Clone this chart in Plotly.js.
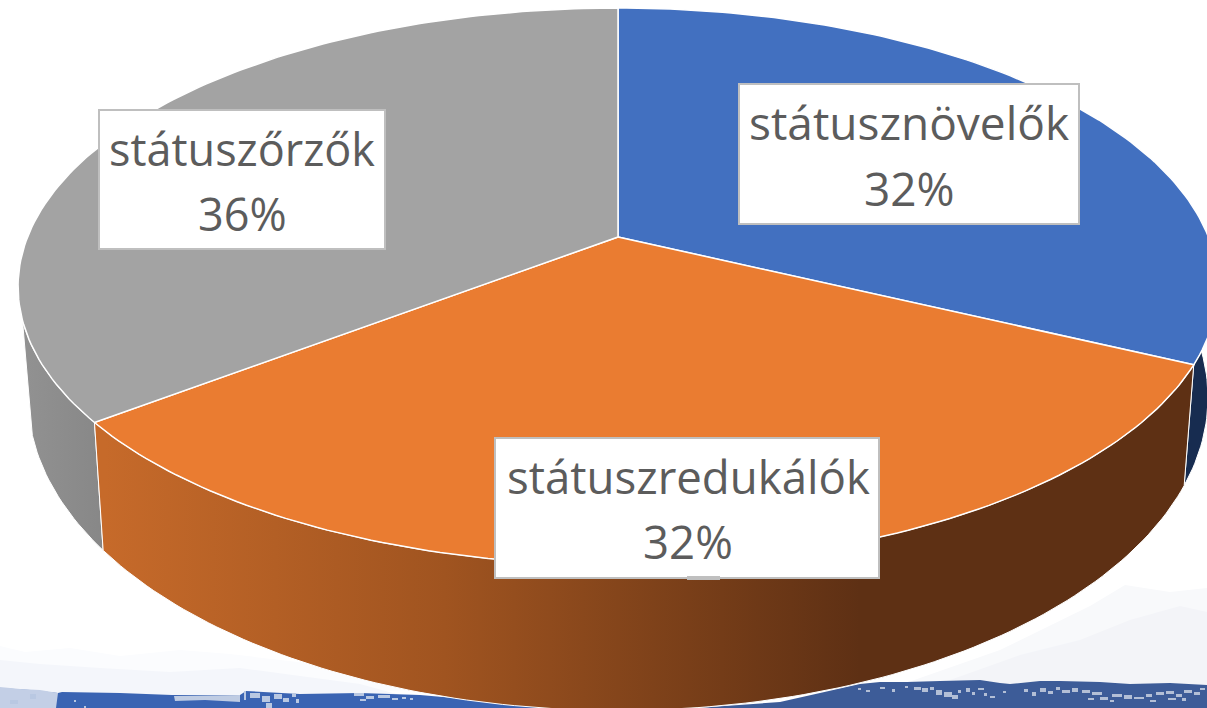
<!DOCTYPE html>
<html><head><meta charset="utf-8">
<script src="https://cdn.plot.ly/plotly-3.0.1.min.js"></script>
<style>html,body{margin:0;padding:0;background:#fff;overflow:hidden}</style>
</head><body><div id="chart" style="width:1207px;height:708px"></div>
<script>
const categories = ['státusznövelők', 'státuszredukálók', 'státuszőrzők'];
const values = [32.2, 32.3, 35.5];
const topColors = ['#4270c0', '#ea7c31', '#a3a3a3'];
const boxLeft = [739, 495, 99];
const boxRight = [1079, 879, 385];
const boxTop = [84, 438, 110];
const boxBottom = [224, 578, 249];
const labelX = [909, 688, 242];
const nameBase = [138, 492, 164];
const pctBase = [204, 557, 229];
const labelSize = [46, 45.6, 45];

const tilt = 0.1777;
const topDisc = {cx: 618, cy: 237, a: 590.4, b: 269.7};
const botDisc = {cx: 618, cy: 342, a: 580.6, b: 303};
const silhouetteRight = 85, silhouetteLeft = 253;

function pt(deg, d) {
  const t = deg * Math.PI / 180, u = Math.sin(t), v = Math.cos(t), w = 1 + tilt * v;
  return [d.cx + d.a * u / w, d.cy - d.b * v / w];
}
function arc(from, to, d) {
  const out = [], n = Math.max(2, Math.ceil(Math.abs(to - from)));
  for (let i = 0; i <= n; i++) out.push(pt(from + (to - from) * i / n, d));
  return out;
}
const total = values.reduce((a, b) => a + b, 0);
const edges = [0];
values.forEach((v, i) => edges.push(edges[i] + v / total * 360));

function wall(from, to, extra) {
  const p = arc(from, to, topDisc).concat(arc(to, from, botDisc));
  p.push(p[0]);
  return Object.assign({type: 'scatter', mode: 'lines', x: p.map(q => q[0]), y: p.map(q => q[1]),
    fill: 'toself', line: {color: '#ffffff', width: 1}, hoverinfo: 'skip', showlegend: false}, extra);
}
const traces = [
  wall(edges[2], silhouetteLeft, {fillcolor: '#8b8b8b', fillgradient: {type: 'horizontal', start: 20, stop: 105, colorscale: [[0, '#929292'], [1, '#878787']]}}),
  wall(silhouetteRight, edges[1], {fillcolor: '#172c50'}),
  wall(edges[1], edges[2], {fillcolor: '#8a4a1c', fillgradient: {type: 'horizontal', start: 105, stop: 860, colorscale: [[0, '#c66a2a'], [0.45, '#a05420'], [1, '#5e3014']]}})
];
categories.forEach((c, i) => {
  const p = [[topDisc.cx, topDisc.cy]].concat(arc(edges[i], edges[i + 1], topDisc));
  p.push(p[0]);
  traces.push({type: 'scatter', mode: 'lines', name: c, x: p.map(q => q[0]), y: p.map(q => q[1]),
    fill: 'toself', fillcolor: topColors[i], line: {color: '#ffffff', width: 1.5}, hoverinfo: 'skip', showlegend: false});
});

const textFont = (i) => ({family: '"Open Sans", sans-serif', size: labelSize[i], color: '#5c5c5c'});
const annotations = [];
categories.forEach((c, i) => {
  annotations.push({xref: 'x', yref: 'y', x: labelX[i], y: nameBase[i] - 16, xanchor: 'center', yanchor: 'middle',
    text: c, showarrow: false, font: textFont(i)});
  annotations.push({xref: 'x', yref: 'y', x: labelX[i], y: pctBase[i] - 16, xanchor: 'center', yanchor: 'middle',
    text: Math.round(values[i]) + '%', showarrow: false, font: textFont(i)});
});

function poly(path, color) {
  return {type: 'path', xref: 'x', yref: 'y', layer: 'below', path: path, fillcolor: color, line: {width: 0}};
}
const shapes = [
  poly('M0,646 L25,652 L70,648 L120,656 L180,650 L230,654 L280,660 L350,668 L420,690 L0,700 Z', '#fbfcfe'),
  poly('M0,660 L40,664 L100,668 L170,672 L240,668 L300,676 L360,684 L400,695 L0,700 Z', '#f4f6fb'),
  poly('M1207,588 L1170,592 L1125,585 L1090,606 L1000,650 L900,685 L1207,700 Z', '#f8f9fb'),
  poly('M1207,612 L1180,606 L1130,620 L1080,640 L1020,655 L950,680 L1207,700 Z', '#f3f4f8'),
  poly('M0,688 L30,690 L58,693 L62,692 L120,693 L172,695 L240,695 L246,691 L300,694 L360,693 L420,695 L500,702 L640,712 L0,712 Z', '#3a64b3'),
  poly('M640,712 L780,702 L860,684 L880,682 L907,682 L940,681 L980,680 L1000,683 L1010,684 L1040,681 L1060,681 L1100,682 L1130,684 L1170,683 L1207,685 L1207,712 Z', '#3d5c98'),
  poly('M0,687 L20,689 L40,690 L58,693 L56,708 L0,708 Z', '#c3cfe6'),
  poly('M174,696 L240,695 L240,702 L205,700 L175,701 Z', '#bfcce3')
];
const speckL = [[30,694,6,5],[10,700,8,4],[250,693,10,5],[262,696,8,6],[274,694,8,5],[283,698,6,4],[266,703,6,5],[292,693,4,4],
  [296,699,3,4],[354,693,10,3],[366,696,8,3],[378,695,12,3],[392,698,6,2],[402,697,4,2],[410,698,3,2],[360,699,6,2],[244,691,2,9],[74,700,2,2],[84,706,2,2]];
const speckR = [[858,688,3,2],[866,690,4,2],[880,687,5,2],[892,689,3,3],[905,686,3,2],[914,687,7,3],[922,688,6,4],[930,687,4,3],[936,690,6,5],
  [944,692,8,5],[952,695,6,4],[958,690,3,3],[966,688,4,4],[972,692,3,3],[978,688,6,2],[984,693,3,3],[990,696,5,2],[1003,691,3,2],
  [1024,689,4,3],[1032,692,4,4],[1040,688,6,4],[1048,691,5,3],[1056,687,4,3],[1062,690,8,3],[1072,688,6,4],[1082,690,8,3],[1092,692,10,3],
  [1088,698,6,2],[1100,697,8,3],[1112,694,10,3],[1124,695,8,4],[1134,697,10,2],[1146,694,6,3],[1156,692,8,3],[1166,691,8,3],[1176,694,6,3],
  [1184,690,8,3],[1194,692,6,3],[1168,698,8,2],[1150,700,6,2],[1182,698,4,3],[1110,700,4,2],[1200,688,5,2]];
speckL.forEach(s => shapes.push({type: 'rect', xref: 'x', yref: 'y', layer: 'below', x0: s[0], x1: s[0] + s[2], y0: s[1], y1: s[1] + s[3], fillcolor: '#b9c8e2', line: {width: 0}}));
speckR.forEach(s => shapes.push({type: 'rect', xref: 'x', yref: 'y', layer: 'below', x0: s[0], x1: s[0] + s[2], y0: s[1], y1: s[1] + s[3], fillcolor: '#b3bfd6', line: {width: 0}}));
categories.forEach((c, i) => shapes.push({type: 'rect', xref: 'x', yref: 'y', layer: 'above',
  x0: boxLeft[i], x1: boxRight[i], y0: boxTop[i], y1: boxBottom[i], fillcolor: '#ffffff', line: {color: '#bfbfbf', width: 2}}));
shapes.push({type: 'rect', xref: 'x', yref: 'y', layer: 'above', x0: 687, x1: 720, y0: 576, y1: 580, fillcolor: '#bfbfbf', line: {width: 0}});

Plotly.newPlot('chart', traces, {
  width: 1207, height: 708, autosize: false, margin: {l: 0, r: 0, t: 0, b: 0},
  paper_bgcolor: '#ffffff', plot_bgcolor: 'rgba(0,0,0,0)', showlegend: false,
  xaxis: {range: [0, 1207], visible: false, fixedrange: true},
  yaxis: {range: [708, 0], visible: false, fixedrange: true},
  annotations: annotations, shapes: shapes
}, {displayModeBar: false, staticPlot: true});
</script></body></html>
